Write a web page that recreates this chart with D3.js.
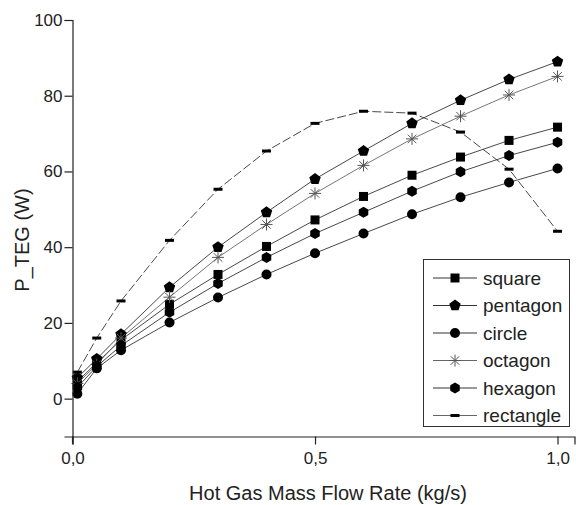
<!DOCTYPE html>
<html>
<head>
<meta charset="utf-8">
<script src="https://cdn.jsdelivr.net/npm/d3@7"></script>
<style>
  html, body { margin: 0; padding: 0; background: #fff; }
  svg { display: block; font-family: "Liberation Sans", Arial, sans-serif; }
</style>
</head>
<body>
<svg id="chart" width="576" height="505"></svg>
<script>
// ---- data ----
const flowRates = [0.01, 0.05, 0.1, 0.2, 0.3, 0.4, 0.5, 0.6, 0.7, 0.8, 0.9, 1.0];
const squareVals    = [4.5, 9.5, 15.5, 24.9, 32.8, 40.2, 47.2, 53.4, 59.0, 63.8, 68.2, 71.7];
const pentagonVals  = [5.5, 10.5, 17.0, 29.4, 40.0, 49.2, 58.0, 65.4, 72.7, 78.8, 84.3, 89.0];
const circleVals    = [1.3, 8.0, 12.8, 20.1, 26.7, 32.8, 38.4, 43.6, 48.7, 53.2, 57.1, 60.8];
const octagonVals   = [4.0, 9.0, 16.0, 26.8, 37.3, 46.0, 54.2, 61.6, 68.6, 74.6, 80.2, 85.1];
const hexagonVals   = [3.0, 8.5, 14.0, 22.8, 30.4, 37.3, 43.6, 49.2, 54.8, 59.9, 64.2, 67.7];
const rectangleVals = [7.0, 16.0, 25.8, 41.8, 55.3, 65.4, 72.7, 75.9, 75.4, 70.4, 60.6, 44.2];
const seriesNames = ["square", "pentagon", "circle", "octagon", "hexagon", "rectangle"];
const xTicks = [0, 0.5, 1.0];
const yTicks = [0, 20, 40, 60, 80, 100];
const xTitle = "Hot Gas Mass Flow Rate (kg/s)";
const yTitle = "P_TEG (W)";

const seriesValues = {
  square: squareVals, pentagon: pentagonVals, circle: circleVals,
  octagon: octagonVals, hexagon: hexagonVals, rectangle: rectangleVals
};

// ---- layout ----
const svg = d3.select("#chart");
const x = d3.scaleLinear().domain([0, 1.035]).range([72.5, 574.5]);
const y = d3.scaleLinear().domain([-10, 100]).range([436.5, 20]);

// markers
function polygonPath(n, r, rot) {
  const pts = d3.range(n).map(i => {
    const a = rot + i * 2 * Math.PI / n;
    return [r * Math.cos(a), r * Math.sin(a)];
  });
  return "M" + pts.map(p => p[0].toFixed(2) + "," + p[1].toFixed(2)).join("L") + "Z";
}
function drawMarker(g, name) {
  if (name === "square") {
    g.append("rect").attr("x", -4.5).attr("y", -4.5).attr("width", 9).attr("height", 9).attr("fill", "#000");
  } else if (name === "pentagon") {
    g.append("path").attr("d", polygonPath(5, 6, -Math.PI / 2)).attr("fill", "#000");
  } else if (name === "circle") {
    g.append("circle").attr("r", 5).attr("fill", "#000");
  } else if (name === "hexagon") {
    g.append("path").attr("d", polygonPath(6, 5.5, -Math.PI / 2)).attr("fill", "#000");
  } else if (name === "octagon") {
    const r = 6;
    for (let i = 0; i < 4; i++) {
      const a = i * Math.PI / 4;
      g.append("line")
        .attr("x1", -r * Math.cos(a)).attr("y1", -r * Math.sin(a))
        .attr("x2", r * Math.cos(a)).attr("y2", r * Math.sin(a))
        .attr("stroke", "#555").attr("stroke-width", 1);
    }
  } else if (name === "rectangle") {
    g.append("rect").attr("x", -4.5).attr("y", -1.5).attr("width", 9).attr("height", 3).attr("fill", "#000");
  }
}

// ---- series lines ----
const line = d3.line().x(d => x(d[0])).y(d => y(d[1]));
seriesNames.forEach(name => {
  const pts = flowRates.map((fx, i) => [fx, seriesValues[name][i]]);
  svg.append("path")
    .attr("d", line(pts))
    .attr("fill", "none")
    .attr("stroke", name === "octagon" ? "#666" : "#333")
    .attr("stroke-width", 0.9)
    .attr("stroke-dasharray", name === "rectangle" ? "9,3" : null);
});
seriesNames.forEach(name => {
  flowRates.forEach((fx, i) => {
    const g = svg.append("g").attr("transform", `translate(${x(fx)},${y(seriesValues[name][i])})`);
    drawMarker(g, name);
  });
});

// ---- axes ----
const xAxisG = svg.append("g").attr("transform", `translate(0,${y(-10)})`);
xAxisG.call(d3.axisBottom(x).tickValues([0.25, 0.75]).tickSize(5).tickFormat(""));
xAxisG.call(d3.axisBottom(x).tickValues(xTicks).tickSize(8).tickFormat(d3.format(".1f")));
xAxisG.selectAll(".tick text").text(d => d3.format(".1f")(d).replace(".", ","))
  .attr("font-size", 17).attr("font-family", "Liberation Sans, Arial, sans-serif").attr("fill", "#222").attr("dy", "0.95em");
xAxisG.selectAll(".domain").attr("stroke", "#222").attr("stroke-width", 1.2);
xAxisG.selectAll(".tick line").attr("stroke", "#222").attr("stroke-width", 1.2);

const yAxisG = svg.append("g").attr("transform", `translate(${x(0)},0)`);
yAxisG.call(d3.axisLeft(y).tickValues([-10, 10, 30, 50, 70, 90]).tickSize(5).tickFormat(""));
yAxisG.call(d3.axisLeft(y).tickValues(yTicks).tickSize(8).tickFormat(d3.format("d")));
yAxisG.selectAll(".tick text").attr("font-size", 17).attr("font-family", "Liberation Sans, Arial, sans-serif").attr("fill", "#222").attr("x", -10);
yAxisG.selectAll(".domain").attr("stroke", "#222").attr("stroke-width", 1.2);
yAxisG.selectAll(".tick line").attr("stroke", "#222").attr("stroke-width", 1.2);
// extend y axis slightly below x axis
svg.append("line").attr("x1", x(0)).attr("x2", x(0)).attr("y1", y(-10)).attr("y2", y(-10) + 7)
  .attr("stroke", "#222").attr("stroke-width", 1.2);

// titles
svg.append("text").attr("x", 328).attr("y", 500).attr("text-anchor", "middle")
  .attr("font-size", 20).attr("fill", "#222").text(xTitle);
svg.append("text").attr("transform", "translate(29,240) rotate(-90)").attr("text-anchor", "middle")
  .attr("font-size", 20).attr("fill", "#222").text(yTitle);

// ---- legend ----
const lg = svg.append("g");
lg.append("rect").attr("x", 423.5).attr("y", 259.5).attr("width", 146).attr("height", 167)
  .attr("fill", "#fff").attr("stroke", "#333").attr("stroke-width", 1);
seriesNames.forEach((name, i) => {
  const cy = 278 + i * 27.5;
  lg.append("line").attr("x1", 433).attr("x2", 477).attr("y1", cy).attr("y2", cy)
    .attr("stroke", name === "octagon" || name === "rectangle" ? "#666" : "#333").attr("stroke-width", 1);
  const g = lg.append("g").attr("transform", `translate(455,${cy})`);
  drawMarker(g, name);
  lg.append("text").attr("x", 483).attr("y", cy).attr("dy", "0.35em")
    .attr("font-size", 19).attr("fill", "#222").text(name);
});
</script>
</body>
</html>
